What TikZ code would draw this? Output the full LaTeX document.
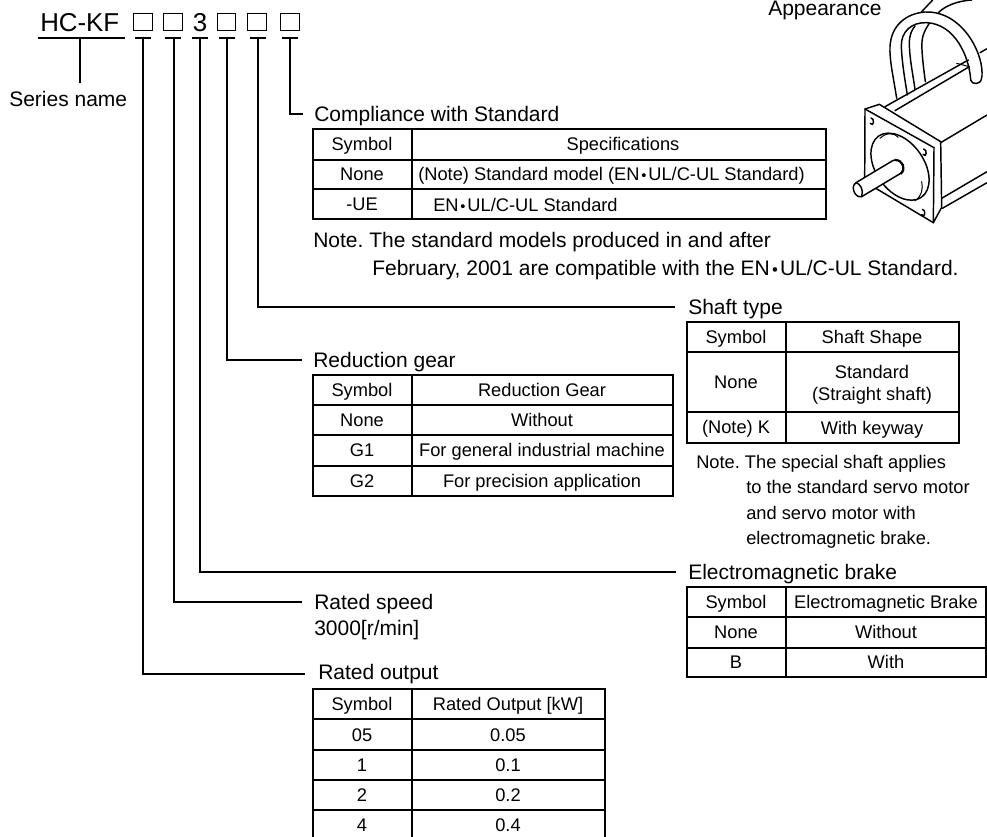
\documentclass[tikz,border=0pt]{standalone}
\usepackage{fontspec}
\setmainfont{Liberation Sans}
\frenchspacing
\newcommand{\EN}{EN\kern.1em{\raisebox{.02em}{\scalebox{.8}{•}}}\kern.1em UL/C-UL}
\tikzset{
  x=.75pt,y=-.75pt,
  conn/.style={line width=1.1pt,line cap=butt},
  gridline/.style={line width=1.1pt,line cap=rect},
  thinbox/.style={line width=.6pt},
  txt/.style={inner sep=0pt,text depth=0pt},
  big/.style={txt,text height=13.9pt,font=\fontsize{19.4pt}{22pt}\selectfont},
  lbl/.style={txt,anchor=west,text height=11.3pt,font=\fontsize{15.75pt}{18pt}\selectfont},
  cell/.style={txt,anchor=center,text height=9.8pt,font=\fontsize{13.7pt}{16pt}\selectfont},
  cellw/.style={txt,anchor=west,text height=9.8pt,font=\fontsize{13.7pt}{16pt}\selectfont},
  motor/.style={line width=.75pt,line join=round,line cap=round},
  motorb/.style={line width=1.1pt,line join=round,line cap=round},
}
\begin{document}
\begin{tikzpicture}
\useasboundingbox (0,0) rectangle (987,836);
\fill[white] (0,0) rectangle (987,836);
% model code
\node[big,anchor=west] (hc) at (40,22) {HC-KF};
\node[big,anchor=center] (three) at (200,22) {3};
\foreach \n/\a/\b in {sa/133/152,sb/163/182,sc/217/235,sd/247/266,se/280/299}{
  \draw[thinbox] (\a,13.5) rectangle (\b,30.5);
}
% bars
\draw[conn] (38,38) coordinate (bs0) -- (125,38) coordinate (bs1);
\coordinate (bsm) at (80,38);
\foreach \n/\a/\b/\m in {ba/135/151/143,bb/165/181/174,bc/192/208/200,bd/219/235/227,be/250/266/258,bf/282/298/290}{
  \draw[conn] (\a,38) -- (\b,38);
  \coordinate (\n) at (\m,38);
}
% labels
\node[lbl] (series) at (9,99) {Series name};
\node[lbl] (compl) at (314,114) {Compliance with Standard};
\node[lbl] (shaft) at (688,307) {Shaft type};
\node[lbl] (reduc) at (313,360) {Reduction gear};
\node[lbl] (brake) at (688,572) {Electromagnetic brake};
\node[lbl] (speed) at (314,602) {Rated speed};
\node[lbl] (speedv) at (314,628) {3000[r/min]};
\node[lbl] (output) at (318,672) {Rated output};
% connectors
\draw[conn] (bsm) -- (80,83) coordinate (bsend);
\draw[conn] (bf) |- ([xshift=-8]compl.west);
\draw[conn] (be) |- ([xshift=-10]shaft.west);
\draw[conn] (bd) |- ([xshift=-8]reduc.west);
\draw[conn] (bc) |- ([xshift=-9]brake.west);
\draw[conn] (bb) |- ([xshift=-9]speed.west);
\coordinate (outend) at (305,674);
\draw[conn] (ba) |- (outend);
% compliance table
\draw[gridline] (313,129) rectangle (826,219);
\draw[gridline] (313,160) -- (826,160) (313,189) -- (826,189) (412,129) -- (412,219);
\node[cell] (c11) at (362,144) {Symbol};
\node[cell] (c12) at (623,144) {Specifications};
\node[cell] (c21) at (362,174) {None};
\node[cellw] (c22) at (418,174) {(Note) Standard model (\EN\ Standard)};
\node[cell] (c31) at (362,204) {-UE};
\node[cellw] (c32) at (433,205) {\EN\ Standard};
\node[lbl] (n1) at (313,240) {Note. The standard models produced in and after};
\node[lbl] (n2) at (372,268) {February, 2001 are compatible with the \EN\ Standard.};
% shaft table
\draw[gridline] (687,322) rectangle (959,443);
\draw[gridline] (687,352) -- (959,352) (687,412) -- (959,412) (786,322) -- (786,443);
\node[cell] (s11) at (736,337) {Symbol};
\node[cell] (s12) at (872,337) {Shaft Shape};
\node[cell] (s21) at (736,382) {None};
\node[cell] (s22) at (872,372) {Standard};
\node[cell] (s23) at (872,394) {(Straight shaft)};
\node[cell] (s31) at (736,427) {(Note) K};
\node[cell] (s32) at (872,428) {With keyway};
\node[cellw] (m1) at (696,462) {Note. The special shaft applies};
\node[cellw] (m2) at (746,487) {to the standard servo motor};
\node[cellw] (m3) at (746,513) {and servo motor with};
\node[cellw] (m4) at (746,538) {electromagnetic brake.};
% reduction table
\draw[gridline] (313,375) rectangle (673,496);
\draw[gridline] (313,405) -- (673,405) (313,435) -- (673,435) (313,466) -- (673,466) (412,375) -- (412,496);
\node[cell] (r11) at (362,390) {Symbol};
\node[cell] (r12) at (542,390) {Reduction Gear};
\node[cell] (r21) at (362,420) {None};
\node[cell] (r22) at (542,420) {Without};
\node[cell] (r31) at (362,450) {G1};
\node[cell] (r32) at (542,450) {For general industrial machine};
\node[cell] (r41) at (362,481) {G2};
\node[cell] (r42) at (542,481) {For precision application};
% brake table
\draw[gridline] (687,587) rectangle (986,677);
\draw[gridline] (687,617) -- (986,617) (687,648) -- (986,648) (786,587) -- (786,677);
\node[cell] (b11) at (736,602) {Symbol};
\node[cell] (b12) at (886,602) {Electromagnetic Brake};
\node[cell] (b21) at (736,632) {None};
\node[cell] (b22) at (886,632) {Without};
\node[cell] (b31) at (736,662) {B};
\node[cell] (b32) at (886,662) {With};
% output table
\draw[gridline] (313,836) -- (313,689) -- (605,689) -- (605,836) (412,689) -- (412,836);
\draw[gridline] (313,719) -- (605,719) (313,750) -- (605,750) (313,780) -- (605,780) (313,810) -- (605,810);
\node[cell] (o11) at (362,704) {Symbol};
\node[cell] (o12) at (508,704) {Rated Output [kW]};
\node[cell] (o21) at (362,735) {05};
\node[cell] (o22) at (508,735) {0.05};
\node[cell] (o31) at (362,765) {1};
\node[cell] (o32) at (508,765) {0.1};
\node[cell] (o41) at (362,795) {2};
\node[cell] (o42) at (508,795) {0.2};
\node[cell] (o51) at (362,825) {4};
\node[cell] (o52) at (508,825) {0.4};
% appearance
\node[lbl] (app) at (768,8) {Appearance};
\begin{scope}[shift={(780,0)},x=.25pt,y=-.25pt]
  % body
  \draw[motorb] (315,320) -- (565,180);
  \draw[motorb] (600,158) -- (621,146);
  \draw[motorb] (345,332) -- (568,200);
  \draw[motor] (530,190) -- (568,200);
  \draw[motorb] (482,428) -- (621,345);
  \draw[motorb] (485,595) -- (621,515);
  \draw[motorb] (487,625) -- (621,548);
  % cables
  \draw[motorb] (350,295) .. controls (340,230) and (328,180) .. (330,140)
     .. controls (333,75) and (380,40) .. (435,36)
     .. controls (520,32) and (585,110) .. (603,190)
     .. controls (610,230) and (605,250) .. (590,250) .. controls (578,250) and (575,248) .. (572,240);
  \draw[motorb] (572,240) .. controls (568,170) and (525,72) .. (440,68)
     .. controls (395,66) and (362,95) .. (364,140) .. controls (366,190) and (375,240) .. (382,285);
  \draw[motorb] (405,268) .. controls (398,220) and (388,170) .. (388,130) .. controls (388,105) and (395,90) .. (405,78);
  \draw[motorb] (436,245) .. controls (430,200) and (424,150) .. (426,125) .. controls (428,100) and (438,85) .. (448,70);
  \draw[motorb] (425,35) -- (458,0);
  \draw[motorb] (475,38) .. controls (495,18) and (530,3) .. (575,0);
  % flange
  \draw[motorb] (255,327) -- (298,313) -- (482,425) -- (485,622) -- (460,668) -- (254,545) -- cycle;
  \draw[motorb] (255,327) -- (462,443) -- (460,668);
  % front boss
  \draw[motorb,rotate around={-55:(360,500)}] (360,500) ellipse [x radius=112,y radius=72];
  \draw[motor] (300,415) .. controls (320,395) and (345,400) .. (355,412);
  \draw[motor] (425,545) .. controls (430,565) and (425,590) .. (405,602);
  % bolt holes
  \foreach \p in {(278,362),(436,455),(432,636)}{
    \draw[motorb] \p ++(-5,-8) .. controls ++(12,0) and ++(10,14) .. ++(-2,16);
  }
  % shaft
  \draw[motorb,fill=white] (228,548) -- (338,482) .. controls (360,470) and (380,505) .. (362,520) -- (245,590) .. controls (225,595) and (210,560) .. (228,548);
  \draw[motorb] (228,548) .. controls (240,550) and (252,570) .. (245,590);
  \draw[line width=1.6pt] (345,480) .. controls (368,480) and (380,505) .. (362,522);
\end{scope}
\end{tikzpicture}
\end{document}
